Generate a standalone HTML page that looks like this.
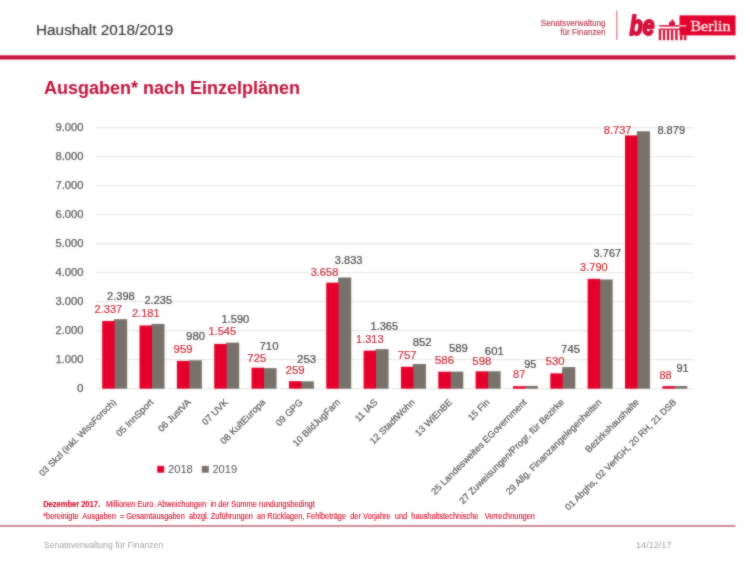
<!DOCTYPE html>
<html><head><meta charset="utf-8"><title>Haushalt 2018/2019</title>
<style>
html,body{margin:0;padding:0;background:#fff;}
body{width:750px;height:563px;overflow:hidden;font-family:"Liberation Sans",sans-serif;}
svg{display:block;font-family:"Liberation Sans",sans-serif;}
</style></head>
<body>
<svg width="750" height="563" viewBox="0 0 750 563">
<defs><filter id="soft" color-interpolation-filters="sRGB" x="-12" y="-12" width="774" height="587" filterUnits="userSpaceOnUse"><feGaussianBlur in="SourceGraphic" stdDeviation="0.8" result="b"/><feComposite in="SourceGraphic" in2="b" operator="arithmetic" k1="0" k2="0.52" k3="0.48" k4="0"/></filter></defs>
<g filter="url(#soft)">
<rect x="-12" y="-12" width="774" height="587" fill="#ffffff"/>
<!-- header -->
<text x="36" y="34.8" font-size="14" fill="#383838" stroke="#383838" stroke-width="0.15" textLength="137.3" lengthAdjust="spacingAndGlyphs">Haushalt 2018/2019</text>
<rect x="-8" y="55.3" width="743.5" height="4.2" fill="#c8123d"/>
<text x="605.6" y="26.1" text-anchor="end" font-size="8.8" fill="#bb3a52" stroke="#bb3a52" stroke-width="0.15" textLength="64.8" lengthAdjust="spacingAndGlyphs">Senatsverwaltung</text>
<text x="605.6" y="35.4" text-anchor="end" font-size="8.8" fill="#bb3a52" stroke="#bb3a52" stroke-width="0.15" textLength="45.3" lengthAdjust="spacingAndGlyphs">für Finanzen</text>
<rect x="616.2" y="10.6" width="1.2" height="29.3" fill="#d27686"/>
<!-- logo -->
<g id="logo">
<text x="629.4" y="35.0" font-size="27" font-weight="bold" font-style="italic" fill="#d30f37" stroke="#d30f37" stroke-width="1.8" stroke-linejoin="round" textLength="25.2" lengthAdjust="spacingAndGlyphs">be</text>
<rect x="679.5" y="15.4" width="56" height="20" fill="#e2002d"/>
<text x="690.4" y="30.6" font-family="Liberation Serif, serif" font-size="14.6" fill="#ffe9ec" stroke="#ffe9ec" stroke-width="0.35" textLength="40" lengthAdjust="spacingAndGlyphs">Berlin</text>
<rect x="659.2" y="25.1" width="20.3" height="1.5" fill="#d30f37"/>
<rect x="679.5" y="25.1" width="6.9" height="1.5" fill="#f6b9c3"/>
<rect x="669.0" y="21.8" width="6.0" height="3.4" fill="#d30f37"/>
<circle cx="672.4" cy="20.9" r="1.3" fill="#d30f37"/>
<rect x="658.6" y="28.6" width="27.8" height="1.3" fill="#d30f37"/>
<g fill="#d30f37">
<rect x="658.8" y="29.6" width="2.4" height="10.6"/>
<rect x="662.9" y="29.6" width="2.3" height="10.6"/>
<rect x="666.9" y="29.6" width="2.3" height="10.6"/>
<rect x="670.9" y="29.6" width="2.3" height="10.6"/>
<rect x="675.2" y="29.6" width="2.4" height="10.6"/>
<rect x="680.0" y="35.4" width="2.6" height="4.8"/>
<rect x="684.0" y="35.4" width="2.4" height="4.8"/>
</g>
</g>
<!-- title -->
<text x="44" y="94" font-size="18" font-weight="bold" fill="#bf0f38" textLength="256" lengthAdjust="spacingAndGlyphs">Ausgaben* nach Einzelplänen</text>
<!-- chart -->
<line x1="96.0" x2="693.5" y1="388.70" y2="388.70" stroke="#e4e4e4" stroke-width="1"/>
<text x="83.5" y="392.20" text-anchor="end" font-size="10.5" fill="#5c5c5c" stroke="#5c5c5c" stroke-width="0.25" textLength="6.5" lengthAdjust="spacingAndGlyphs">0</text>
<line x1="96.0" x2="693.5" y1="359.71" y2="359.71" stroke="#e4e4e4" stroke-width="1"/>
<text x="83.5" y="363.21" text-anchor="end" font-size="10.5" fill="#5c5c5c" stroke="#5c5c5c" stroke-width="0.25" textLength="28" lengthAdjust="spacingAndGlyphs">1.000</text>
<line x1="96.0" x2="693.5" y1="330.72" y2="330.72" stroke="#e4e4e4" stroke-width="1"/>
<text x="83.5" y="334.22" text-anchor="end" font-size="10.5" fill="#5c5c5c" stroke="#5c5c5c" stroke-width="0.25" textLength="28" lengthAdjust="spacingAndGlyphs">2.000</text>
<line x1="96.0" x2="693.5" y1="301.73" y2="301.73" stroke="#e4e4e4" stroke-width="1"/>
<text x="83.5" y="305.23" text-anchor="end" font-size="10.5" fill="#5c5c5c" stroke="#5c5c5c" stroke-width="0.25" textLength="28" lengthAdjust="spacingAndGlyphs">3.000</text>
<line x1="96.0" x2="693.5" y1="272.74" y2="272.74" stroke="#e4e4e4" stroke-width="1"/>
<text x="83.5" y="276.24" text-anchor="end" font-size="10.5" fill="#5c5c5c" stroke="#5c5c5c" stroke-width="0.25" textLength="28" lengthAdjust="spacingAndGlyphs">4.000</text>
<line x1="96.0" x2="693.5" y1="243.76" y2="243.76" stroke="#e4e4e4" stroke-width="1"/>
<text x="83.5" y="247.26" text-anchor="end" font-size="10.5" fill="#5c5c5c" stroke="#5c5c5c" stroke-width="0.25" textLength="28" lengthAdjust="spacingAndGlyphs">5.000</text>
<line x1="96.0" x2="693.5" y1="214.77" y2="214.77" stroke="#e4e4e4" stroke-width="1"/>
<text x="83.5" y="218.27" text-anchor="end" font-size="10.5" fill="#5c5c5c" stroke="#5c5c5c" stroke-width="0.25" textLength="28" lengthAdjust="spacingAndGlyphs">6.000</text>
<line x1="96.0" x2="693.5" y1="185.78" y2="185.78" stroke="#e4e4e4" stroke-width="1"/>
<text x="83.5" y="189.28" text-anchor="end" font-size="10.5" fill="#5c5c5c" stroke="#5c5c5c" stroke-width="0.25" textLength="28" lengthAdjust="spacingAndGlyphs">7.000</text>
<line x1="96.0" x2="693.5" y1="156.79" y2="156.79" stroke="#e4e4e4" stroke-width="1"/>
<text x="83.5" y="160.29" text-anchor="end" font-size="10.5" fill="#5c5c5c" stroke="#5c5c5c" stroke-width="0.25" textLength="28" lengthAdjust="spacingAndGlyphs">8.000</text>
<line x1="96.0" x2="693.5" y1="127.80" y2="127.80" stroke="#e4e4e4" stroke-width="1"/>
<text x="83.5" y="131.30" text-anchor="end" font-size="10.5" fill="#5c5c5c" stroke="#5c5c5c" stroke-width="0.25" textLength="28" lengthAdjust="spacingAndGlyphs">9.000</text>
<rect x="114.07" y="319.18" width="13.1" height="69.52" fill="#78716b"/>
<rect x="102.17" y="320.95" width="12.5" height="67.75" fill="#e4002b"/>
<text x="108.42" y="312.75" text-anchor="middle" font-size="10.5" fill="#c8303c" stroke="#c8303c" stroke-width="0.2" textLength="27.6" lengthAdjust="spacingAndGlyphs">2.337</text>
<text x="120.92" y="300.18" text-anchor="middle" font-size="10.5" fill="#484848" stroke="#484848" stroke-width="0.18" textLength="27.6" lengthAdjust="spacingAndGlyphs">2.398</text>
<text transform="translate(116.67,402.8) rotate(-45)" text-anchor="end" font-size="9.1" fill="#585858" stroke="#585858" stroke-width="0.2">03 Skzl (inkl. WissForsch)</text>
<rect x="151.42" y="323.91" width="13.1" height="64.79" fill="#78716b"/>
<rect x="139.52" y="325.48" width="12.5" height="63.22" fill="#e4002b"/>
<text x="145.77" y="317.28" text-anchor="middle" font-size="10.5" fill="#c8303c" stroke="#c8303c" stroke-width="0.2" textLength="27.6" lengthAdjust="spacingAndGlyphs">2.181</text>
<text x="158.27" y="304.11" text-anchor="middle" font-size="10.5" fill="#484848" stroke="#484848" stroke-width="0.18" textLength="27.6" lengthAdjust="spacingAndGlyphs">2.235</text>
<text transform="translate(154.02,402.8) rotate(-45)" text-anchor="end" font-size="9.4" fill="#585858" stroke="#585858" stroke-width="0.2">05 InnSport</text>
<rect x="188.76" y="360.29" width="13.1" height="28.41" fill="#78716b"/>
<rect x="176.86" y="360.90" width="12.5" height="27.80" fill="#e4002b"/>
<text x="183.11" y="352.70" text-anchor="middle" font-size="10.5" fill="#c8303c" stroke="#c8303c" stroke-width="0.2" textLength="19.0" lengthAdjust="spacingAndGlyphs">959</text>
<text x="195.61" y="340.49" text-anchor="middle" font-size="10.5" fill="#484848" stroke="#484848" stroke-width="0.18" textLength="19.0" lengthAdjust="spacingAndGlyphs">980</text>
<text transform="translate(191.36,402.8) rotate(-45)" text-anchor="end" font-size="9.4" fill="#585858" stroke="#585858" stroke-width="0.2">06 JustVA</text>
<rect x="226.10" y="342.61" width="13.1" height="46.09" fill="#78716b"/>
<rect x="214.20" y="343.91" width="12.5" height="44.79" fill="#e4002b"/>
<text x="222.25" y="334.91" text-anchor="middle" font-size="10.5" fill="#c8303c" stroke="#c8303c" stroke-width="0.2" textLength="27.6" lengthAdjust="spacingAndGlyphs">1.545</text>
<text x="235.35" y="322.71" text-anchor="middle" font-size="10.5" fill="#484848" stroke="#484848" stroke-width="0.18" textLength="27.6" lengthAdjust="spacingAndGlyphs">1.590</text>
<text transform="translate(228.70,402.8) rotate(-45)" text-anchor="end" font-size="9.4" fill="#585858" stroke="#585858" stroke-width="0.2">07 UVK</text>
<rect x="263.45" y="368.12" width="13.1" height="20.58" fill="#78716b"/>
<rect x="251.55" y="367.68" width="12.5" height="21.02" fill="#e4002b"/>
<text x="256.80" y="362.18" text-anchor="middle" font-size="10.5" fill="#c8303c" stroke="#c8303c" stroke-width="0.2" textLength="19.0" lengthAdjust="spacingAndGlyphs">725</text>
<text x="269.00" y="349.62" text-anchor="middle" font-size="10.5" fill="#484848" stroke="#484848" stroke-width="0.18" textLength="19.0" lengthAdjust="spacingAndGlyphs">710</text>
<text transform="translate(266.05,402.8) rotate(-45)" text-anchor="end" font-size="9.4" fill="#585858" stroke="#585858" stroke-width="0.2">08 KultEuropa</text>
<rect x="300.79" y="381.37" width="13.1" height="7.33" fill="#78716b"/>
<rect x="288.89" y="381.19" width="12.5" height="7.51" fill="#e4002b"/>
<text x="295.14" y="373.79" text-anchor="middle" font-size="10.5" fill="#c8303c" stroke="#c8303c" stroke-width="0.2" textLength="19.0" lengthAdjust="spacingAndGlyphs">259</text>
<text x="306.64" y="363.37" text-anchor="middle" font-size="10.5" fill="#484848" stroke="#484848" stroke-width="0.18" textLength="19.0" lengthAdjust="spacingAndGlyphs">253</text>
<text transform="translate(303.39,402.8) rotate(-45)" text-anchor="end" font-size="9.4" fill="#585858" stroke="#585858" stroke-width="0.2">09 GPG</text>
<rect x="338.13" y="277.59" width="13.1" height="111.11" fill="#78716b"/>
<rect x="326.23" y="282.66" width="12.5" height="106.04" fill="#e4002b"/>
<text x="324.48" y="275.86" text-anchor="middle" font-size="10.5" fill="#c8303c" stroke="#c8303c" stroke-width="0.2" textLength="27.6" lengthAdjust="spacingAndGlyphs">3.658</text>
<text x="348.68" y="263.59" text-anchor="middle" font-size="10.5" fill="#484848" stroke="#484848" stroke-width="0.18" textLength="27.6" lengthAdjust="spacingAndGlyphs">3.833</text>
<text transform="translate(340.73,402.8) rotate(-45)" text-anchor="end" font-size="9.4" fill="#585858" stroke="#585858" stroke-width="0.2">10 BildJugFam</text>
<rect x="375.48" y="349.13" width="13.1" height="39.57" fill="#78716b"/>
<rect x="363.58" y="350.64" width="12.5" height="38.06" fill="#e4002b"/>
<text x="369.83" y="343.24" text-anchor="middle" font-size="10.5" fill="#c8303c" stroke="#c8303c" stroke-width="0.2" textLength="27.6" lengthAdjust="spacingAndGlyphs">1.313</text>
<text x="384.33" y="330.33" text-anchor="middle" font-size="10.5" fill="#484848" stroke="#484848" stroke-width="0.18" textLength="27.6" lengthAdjust="spacingAndGlyphs">1.365</text>
<text transform="translate(378.08,402.8) rotate(-45)" text-anchor="end" font-size="9.4" fill="#585858" stroke="#585858" stroke-width="0.2">11 IAS</text>
<rect x="412.82" y="364.00" width="13.1" height="24.70" fill="#78716b"/>
<rect x="400.92" y="366.76" width="12.5" height="21.94" fill="#e4002b"/>
<text x="407.17" y="358.56" text-anchor="middle" font-size="10.5" fill="#c8303c" stroke="#c8303c" stroke-width="0.2" textLength="19.0" lengthAdjust="spacingAndGlyphs">757</text>
<text x="422.17" y="346.00" text-anchor="middle" font-size="10.5" fill="#484848" stroke="#484848" stroke-width="0.18" textLength="19.0" lengthAdjust="spacingAndGlyphs">852</text>
<text transform="translate(415.42,402.8) rotate(-45)" text-anchor="end" font-size="9.4" fill="#585858" stroke="#585858" stroke-width="0.2">12 StadtWohn</text>
<rect x="450.17" y="371.63" width="13.1" height="17.07" fill="#78716b"/>
<rect x="438.27" y="371.71" width="12.5" height="16.99" fill="#e4002b"/>
<text x="444.52" y="363.51" text-anchor="middle" font-size="10.5" fill="#c8303c" stroke="#c8303c" stroke-width="0.2" textLength="19.0" lengthAdjust="spacingAndGlyphs">586</text>
<text x="458.42" y="351.83" text-anchor="middle" font-size="10.5" fill="#484848" stroke="#484848" stroke-width="0.18" textLength="19.0" lengthAdjust="spacingAndGlyphs">589</text>
<text transform="translate(452.77,402.8) rotate(-45)" text-anchor="end" font-size="9.4" fill="#585858" stroke="#585858" stroke-width="0.2">13 WiEnBE</text>
<rect x="487.51" y="371.28" width="13.1" height="17.42" fill="#78716b"/>
<rect x="475.61" y="371.36" width="12.5" height="17.34" fill="#e4002b"/>
<text x="481.86" y="364.76" text-anchor="middle" font-size="10.5" fill="#c8303c" stroke="#c8303c" stroke-width="0.2" textLength="19.0" lengthAdjust="spacingAndGlyphs">598</text>
<text x="494.36" y="354.68" text-anchor="middle" font-size="10.5" fill="#484848" stroke="#484848" stroke-width="0.18" textLength="19.0" lengthAdjust="spacingAndGlyphs">601</text>
<text transform="translate(490.11,402.8) rotate(-45)" text-anchor="end" font-size="9.4" fill="#585858" stroke="#585858" stroke-width="0.2">15 Fin</text>
<rect x="524.85" y="385.95" width="13.1" height="2.75" fill="#78716b"/>
<rect x="512.95" y="386.18" width="12.5" height="2.52" fill="#e4002b"/>
<text x="519.20" y="377.98" text-anchor="middle" font-size="10.5" fill="#c8303c" stroke="#c8303c" stroke-width="0.2" textLength="12.2" lengthAdjust="spacingAndGlyphs">87</text>
<text x="530.30" y="367.95" text-anchor="middle" font-size="10.5" fill="#484848" stroke="#484848" stroke-width="0.18" textLength="12.2" lengthAdjust="spacingAndGlyphs">95</text>
<text transform="translate(527.45,402.8) rotate(-45)" text-anchor="end" font-size="9.4" fill="#585858" stroke="#585858" stroke-width="0.2">25 Landesweites EGovernment</text>
<rect x="562.20" y="367.10" width="13.1" height="21.60" fill="#78716b"/>
<rect x="550.30" y="373.34" width="12.5" height="15.36" fill="#e4002b"/>
<text x="555.05" y="365.14" text-anchor="middle" font-size="10.5" fill="#c8303c" stroke="#c8303c" stroke-width="0.2" textLength="19.0" lengthAdjust="spacingAndGlyphs">530</text>
<text x="570.55" y="353.10" text-anchor="middle" font-size="10.5" fill="#484848" stroke="#484848" stroke-width="0.18" textLength="19.0" lengthAdjust="spacingAndGlyphs">745</text>
<text transform="translate(564.80,402.8) rotate(-45)" text-anchor="end" font-size="9.4" fill="#585858" stroke="#585858" stroke-width="0.2">27 Zuweisungen/Progr. für Bezirke</text>
<rect x="599.54" y="279.50" width="13.1" height="109.20" fill="#78716b"/>
<rect x="587.64" y="278.83" width="12.5" height="109.87" fill="#e4002b"/>
<text x="593.89" y="270.63" text-anchor="middle" font-size="10.5" fill="#c8303c" stroke="#c8303c" stroke-width="0.2" textLength="27.6" lengthAdjust="spacingAndGlyphs">3.790</text>
<text x="607.39" y="256.60" text-anchor="middle" font-size="10.5" fill="#484848" stroke="#484848" stroke-width="0.18" textLength="27.6" lengthAdjust="spacingAndGlyphs">3.767</text>
<text transform="translate(602.14,402.8) rotate(-45)" text-anchor="end" font-size="9.4" fill="#585858" stroke="#585858" stroke-width="0.2">29 Allg. Finanzangelegenheiten</text>
<rect x="636.88" y="131.31" width="13.1" height="257.39" fill="#78716b"/>
<rect x="624.98" y="135.42" width="12.5" height="253.28" fill="#e4002b"/>
<text x="617.63" y="133.50" text-anchor="middle" font-size="10.5" fill="#c8303c" stroke="#c8303c" stroke-width="0.2" textLength="27.6" lengthAdjust="spacingAndGlyphs">8.737</text>
<text x="671.23" y="133.50" text-anchor="middle" font-size="10.5" fill="#484848" stroke="#484848" stroke-width="0.18" textLength="27.6" lengthAdjust="spacingAndGlyphs">8.879</text>
<text transform="translate(639.48,402.8) rotate(-45)" text-anchor="end" font-size="9.4" fill="#585858" stroke="#585858" stroke-width="0.2">Bezirkshaushalte</text>
<rect x="674.23" y="386.06" width="13.1" height="2.64" fill="#78716b"/>
<rect x="662.33" y="386.15" width="12.5" height="2.55" fill="#e4002b"/>
<text x="665.58" y="378.65" text-anchor="middle" font-size="10.5" fill="#c8303c" stroke="#c8303c" stroke-width="0.2" textLength="12.2" lengthAdjust="spacingAndGlyphs">88</text>
<text x="682.58" y="371.66" text-anchor="middle" font-size="10.5" fill="#484848" stroke="#484848" stroke-width="0.18" textLength="12.2" lengthAdjust="spacingAndGlyphs">91</text>
<text transform="translate(676.83,402.8) rotate(-45)" text-anchor="end" font-size="9.1" fill="#585858" stroke="#585858" stroke-width="0.2">01 Abghs, 02 VerfGH, 20 RH, 21 DSB</text>
<!-- legend -->
<rect x="157.2" y="465.9" width="7" height="6.8" fill="#e4002b"/>
<text x="168" y="473" font-size="11.4" fill="#555" textLength="24.8" lengthAdjust="spacingAndGlyphs">2018</text>
<rect x="201.8" y="465.9" width="7" height="6.8" fill="#78716b"/>
<text x="212.4" y="473" font-size="11.4" fill="#555" textLength="24.8" lengthAdjust="spacingAndGlyphs">2019</text>
<!-- footnotes -->
<text x="43.2" y="507" font-size="8.2" fill="#d40f2a" stroke="#d40f2a" stroke-width="0.12" xml:space="preserve"><tspan font-weight="bold" textLength="56.8" lengthAdjust="spacingAndGlyphs">Dezember 2017.</tspan></text>
<text x="106" y="507" font-size="8.2" fill="#d40f2a" stroke="#d40f2a" stroke-width="0.12" textLength="208.8" lengthAdjust="spacingAndGlyphs" xml:space="preserve">Millionen Euro. Abweichungen  in der Summe rundungsbedingt</text>
<text x="43.2" y="518.6" font-size="8.2" fill="#d40f2a" stroke="#d40f2a" stroke-width="0.12" textLength="491.8" lengthAdjust="spacingAndGlyphs" xml:space="preserve">*bereinigte  Ausgaben  = Gesamtausgaben  abzgl. Zuführungen  an Rücklagen, Fehlbeträge  der Vorjahre  und  haushaltstechnische   Verrechnungen</text>
<rect x="-8" y="525.3" width="743.5" height="1.3" fill="#b24a5e"/>
<!-- footer -->
<text x="44" y="547.8" font-size="8.3" fill="#a2a2a2" textLength="119.2" lengthAdjust="spacingAndGlyphs">Senatsverwaltung für Finanzen</text>
<text x="636" y="547.8" font-size="8.3" fill="#a2a2a2" textLength="35.5" lengthAdjust="spacingAndGlyphs">14/12/17</text>
</g>
</svg>
</body></html>
